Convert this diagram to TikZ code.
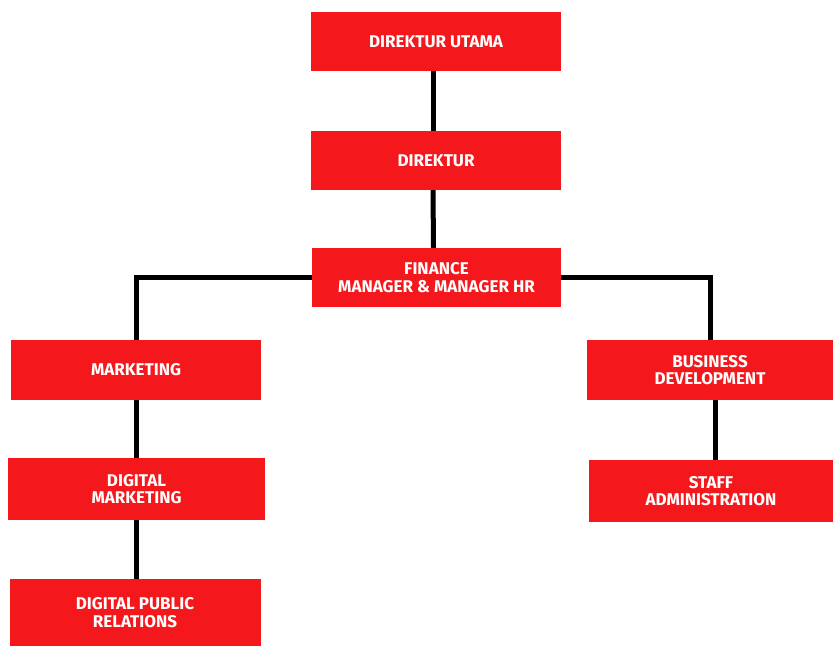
\documentclass[tikz,border=0pt]{standalone}
\usepackage{fontspec}
\setmainfont{Fira Sans}
\usetikzlibrary{positioning}
\usetikzlibrary{calc}
\definecolor{boxred}{RGB}{244,24,28}
\tikzset{
    % Red box with white capitals
    org box/.style={
        rectangle, fill=boxred, text=white, align=center,
        font=\bfseries\fontsize{17}{17.5}\selectfont,
        inner sep=0, minimum width=#1, minimum height=59pt},
    org box/.default=250pt,
%
    % Plain thick black connector
    org line/.style={line width=5pt, black}}

\begin{document}
\begin{tikzpicture}[x=1pt, y=1pt]

% Page frame
\useasboundingbox (0,0) rectangle (833,646);

\node [org box] (dirut) at (436,604.5) {DIREKTUR UTAMA};
\node [org box] (direktur) at (436,485.5) {DIREKTUR};
\node [org box=249pt] (finance) at (436.5,368.5)
    {FINANCE\\MANAGER \& MANAGER HR};

\node [org box, minimum height=60pt] (marketing) at (136,276) {MARKETING};
\node [org box=246pt, minimum height=60pt] (bisdev) at (710,276)
    {BUSINESS\\DEVELOPMENT};

\node [org box=257pt, minimum height=62pt] (digmkt) at (136.5,157)
    {DIGITAL\\MARKETING};
\node [org box=244pt, minimum height=62pt] (staff) at (711,155)
    {STAFF\\ADMINISTRATION};

\node [org box=251pt, minimum height=67pt] (dpr) at (135,33.5)
    {DIGITAL PUBLIC\\RELATIONS};

% Connectors
\draw [org line] ([xshift=-3pt]dirut.south) -- ([xshift=-3pt]direktur.north);
\draw [org line] ([xshift=-3pt]direktur.south) -- ([xshift=-3pt]finance.north);
\draw [org line] (finance.west) -| (marketing.north);
\draw [org line] (finance.east) -| (bisdev.north);
\draw [org line] (marketing.south) -- (marketing.south |- digmkt.north);
\draw [org line] (marketing.south |- digmkt.south) -- (marketing.south |- dpr.north);
\draw [org line] ([xshift=5pt]bisdev.south) -- ([xshift=5pt]bisdev.south |- staff.north);

\end{tikzpicture}
\end{document}
